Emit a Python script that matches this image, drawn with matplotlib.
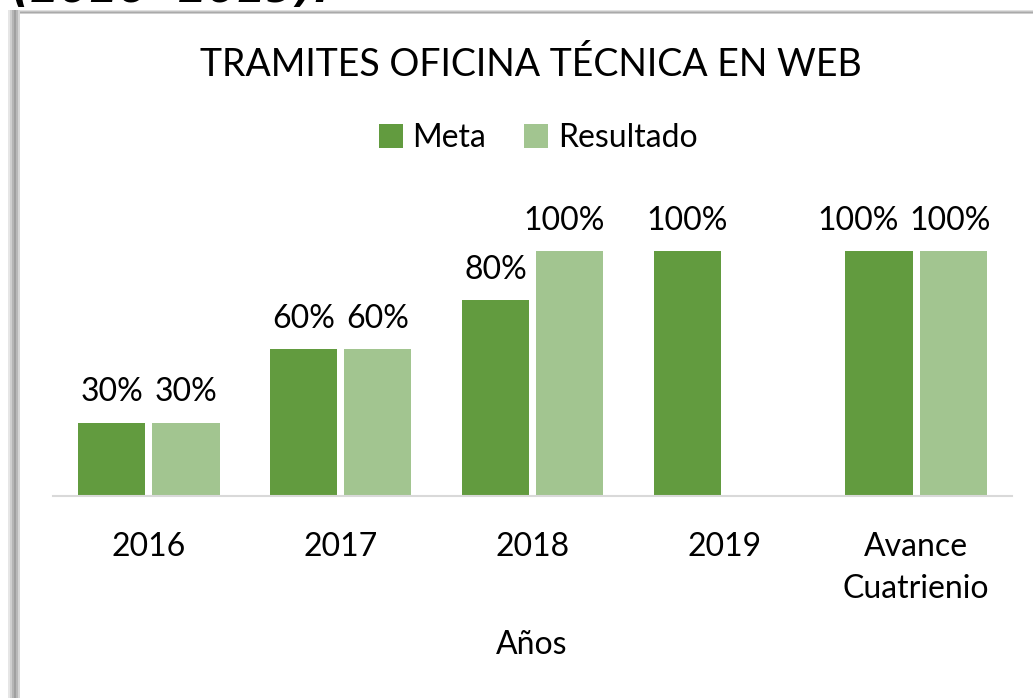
import matplotlib
matplotlib.use("Agg")
from matplotlib import pyplot as plt
from matplotlib.patches import Rectangle
import numpy as np

plt.rcParams['font.family'] = ['Lato', 'DejaVu Sans']

# Data
categorias = ["2016", "2017", "2018", "2019", "Avance\nCuatrienio"]
meta = [0.30, 0.60, 0.80, 1.00, 1.00]
resultado = [0.30, 0.60, 1.00, None, 1.00]

color_meta = "#629B3F"
color_res = "#A2C590"

fig = plt.figure(figsize=(10.33, 6.98), dpi=100)
W, H = 1033, 698

# frame shadow on the top and left (screenshot look)
for i, g in enumerate(["#e0e0e0", "#c4c4c4", "#aaaaaa", "#cfcfcf"]):
    fig.patches.append(Rectangle((8 / W, 1 - (10 + i + 1) / H), 1, 1 / H,
                                 transform=fig.transFigure, color=g, lw=0))
for i, g in enumerate(["#e6e6e6", "#cfcfcf", "#b5b5b5", "#a0a0a0", "#b8b8b8", "#d6d6d6"]):
    fig.patches.append(Rectangle(((8 + i * 2) / W, 0), 2 / W, 1 - 10 / H,
                                 transform=fig.transFigure, color=g, lw=0))

# cut-off heading text above the chart
fig.text(330 / W, 1 - 2 / H, "(2016- 2019).", ha="right", va="baseline",
         fontsize=30, fontweight="bold", fontstyle="italic", color="black",
         family=["DejaVu Sans"])

ax = fig.add_axes([53 / W, 1 - 496 / H, (1012 - 53) / W, (496 - 202) / H])
x = np.arange(len(categorias))
w = 0.35
gap = 0.037

met_bars = ax.bar(x - (w + gap) / 2, meta, w, color=color_meta, label="Meta")
res_vals = [v if v is not None else 0 for v in resultado]
res_bars = ax.bar(x + (w + gap) / 2, res_vals, w, color=color_res, label="Resultado")

met_lbls = ax.bar_label(met_bars, labels=["%d%%" % round(v * 100) for v in meta],
                        padding=11, fontsize=23)
res_lbls = ax.bar_label(res_bars, labels=["%d%%" % round(v * 100) if v is not None else ""
                                          for v in resultado],
                        padding=11, fontsize=23)
# Excel nudges the crowded labels apart
met_lbls[4].xyann = (-15, 11)
res_lbls[2].xyann = (-4, 11)
res_lbls[4].xyann = (-2, 11)

ax.set_xlim(-0.5, len(categorias) - 0.5)
ax.set_ylim(0, 1.2)
ax.set_xticks(x)
ax.set_xticklabels(categorias, fontsize=23, linespacing=1.5)
ax.tick_params(axis="x", length=0, pad=26)
ax.set_yticks([])
for s in ["top", "right", "left"]:
    ax.spines[s].set_visible(False)
ax.spines["bottom"].set_color("#d9d9d9")
ax.spines["bottom"].set_linewidth(1.5)

fig.text(532 / W, 1 - 645 / H, "Años", ha="center", va="center", fontsize=23)
fig.text(531 / W, 1 - 65 / H, "TRAMITES OFICINA TÉCNICA EN WEB", ha="center",
         va="center", fontsize=27)

fig.legend(handles=[met_bars, res_bars], labels=["Meta", "Resultado"],
           loc="center", bbox_to_anchor=(538 / W, 1 - 138 / H), ncol=2,
           frameon=False, fontsize=23, handlelength=0.75, handleheight=0.75,
           handletextpad=0.3, columnspacing=1.2)

fig.savefig("out.png", dpi=100)
